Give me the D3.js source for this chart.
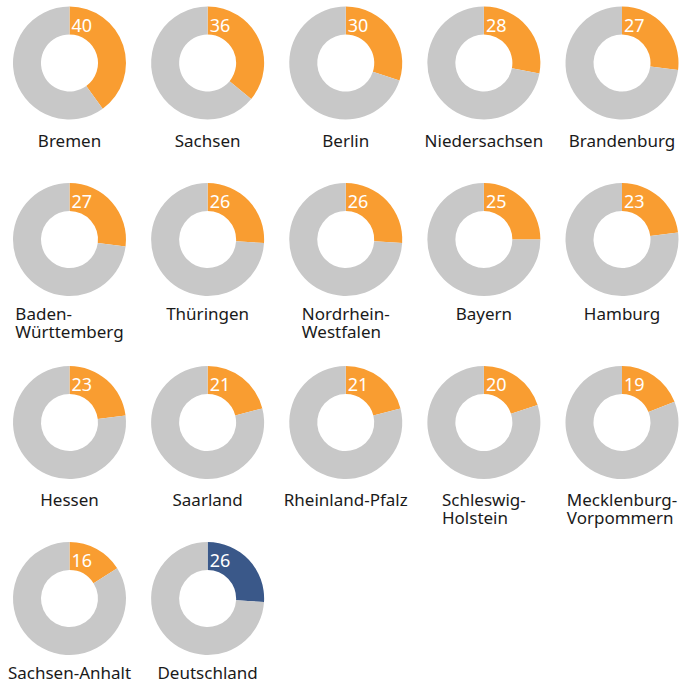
<!DOCTYPE html>
<html>
<head>
<meta charset="utf-8">
<script src="https://cdn.jsdelivr.net/npm/d3@7"></script>
<style>
  body { margin: 0; background: #fff; }
  svg text { font-family: "Noto Sans", sans-serif; }
</style>
</head>
<body>
<div id="chart"></div>
<script>
// Anteil in Prozent je Bundesland
const states = ["Bremen", "Sachsen", "Berlin", "Niedersachsen", "Brandenburg",
  "Baden-\nWürttemberg", "Thüringen", "Nordrhein-\nWestfalen", "Bayern", "Hamburg",
  "Hessen", "Saarland", "Rheinland-Pfalz", "Schleswig-\nHolstein", "Mecklenburg-\nVorpommern",
  "Sachsen-Anhalt", "Deutschland"];
const values = [40, 36, 30, 28, 27, 27, 26, 26, 25, 23, 23, 21, 21, 20, 19, 16, 26];

const width = 681, height = 684;
const cols = 5;
const colX = d3.scaleLinear().domain([0, cols - 1]).range([69.5, 622]);
const rowY = [63, 239.5, 422.5, 598.5];     // donut centres per row
const labelY = [146.7, 319.5, 505.7, 679.3]; // label baselines per row
const rOuter = 56.5, rInner = 28.5;

const orange = "#f99d31", grey = "#c8c8c8", navy = "#3a5889";

const svg = d3.select("#chart").append("svg")
    .attr("width", width)
    .attr("height", height);

const pie = d3.pie().sort(null).value(d => d);
const arc = d3.arc().innerRadius(rInner).outerRadius(rOuter);

const cells = svg.selectAll("g.donut")
  .data(states.map((s, i) => ({name: s, value: values[i], i: i, row: Math.floor(i / cols)})))
  .join("g")
    .attr("class", "donut")
    .attr("transform", d => `translate(${colX(d.i % cols)},${rowY[d.row]})`);

cells.selectAll("path")
  .data(d => pie([d.value, 100 - d.value]).map((p, k) => ({p: p, k: k, last: d.name === "Deutschland"})))
  .join("path")
    .attr("d", d => arc(d.p))
    .attr("fill", d => d.k === 1 ? grey : (d.last ? navy : orange));

// value label in the coloured slice
cells.append("text")
    .attr("x", 2)
    .attr("y", -rOuter + 25)
    .attr("fill", "#fff")
    .attr("font-size", 18)
    .text(d => d.value);

// state label, lines left aligned but block centred under the donut
cells.each(function(d) {
  const g = d3.select(this);
  const lines = d.name.split("\n");
  const t = g.append("text")
      .attr("font-size", 17)
      .attr("fill", "#1a1a1a")
      .attr("y", labelY[d.row] - rowY[d.row]);
  lines.forEach((l, k) => {
    t.append("tspan").attr("x", 0).attr("dy", k === 0 ? 0 : 18).text(l);
  });
  const w = t.node().getBBox().width;
  t.selectAll("tspan").attr("x", -w / 2);
});
</script>
</body>
</html>
